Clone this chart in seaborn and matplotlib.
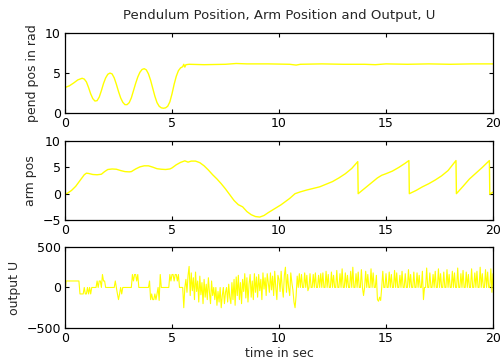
import numpy as np
import pandas as pd
import seaborn as sns
import matplotlib.pyplot as plt

# pendulum position (rad)
pend_t = [0.0, 0.2, 0.4, 0.6, 0.8, 0.9, 1.0, 1.1, 1.2, 1.3, 1.4, 1.5, 1.6, 1.7, 1.8, 1.9,
          2.0, 2.1, 2.2, 2.3, 2.4, 2.5, 2.6, 2.7, 2.8, 2.9, 3.0, 3.1, 3.2, 3.3, 3.4, 3.5,
          3.6, 3.7, 3.8, 3.9, 4.0, 4.1, 4.2, 4.3, 4.4, 4.5, 4.6, 4.7, 4.8, 4.9, 5.0, 5.1,
          5.2, 5.3, 5.4, 5.5, 5.55, 5.6, 5.65, 5.8, 6.5, 7.5, 8.0, 8.5, 9.5, 10.5, 10.8,
          11.0, 12.0, 13.0, 14.0, 14.5, 15.0, 16.0, 17.0, 18.0, 19.0, 20.0]
pend_v = [3.2, 3.4, 3.75, 4.15, 4.35, 4.25, 3.9, 3.2, 2.4, 1.8, 1.5, 1.55, 2.0, 2.8, 3.7, 4.4,
          4.85, 5.0, 4.9, 4.4, 3.6, 2.7, 1.9, 1.35, 1.05, 1.05, 1.3, 1.9, 2.8, 3.7, 4.5, 5.1,
          5.45, 5.55, 5.4, 4.9, 4.1, 3.1, 2.1, 1.3, 0.85, 0.65, 0.6, 0.65, 0.85, 1.4, 2.4, 3.6,
          4.6, 5.3, 5.65, 5.8, 6.1, 5.75, 6.05, 6.1, 6.05, 6.1, 6.2, 6.15, 6.15, 6.1, 6.0,
          6.1, 6.15, 6.1, 6.1, 6.05, 6.15, 6.1, 6.15, 6.1, 6.15, 6.15]

# arm position
arm_t = [0.0, 0.1, 0.3, 0.5, 0.7, 0.9, 1.0, 1.1, 1.3, 1.5, 1.7, 1.85, 2.0, 2.2, 2.4, 2.6,
         2.8, 3.0, 3.1, 3.3, 3.5, 3.7, 3.9, 4.1, 4.3, 4.5, 4.7, 4.9, 5.0, 5.2, 5.4, 5.6,
         5.75, 5.9, 6.1, 6.3, 6.5, 6.7, 6.9, 7.1, 7.3, 7.5, 7.7, 7.9, 8.1, 8.3, 8.5, 8.7,
         8.9, 9.1, 9.3, 9.5, 9.7, 9.9, 10.1, 10.3, 10.5, 10.75, 11.0, 11.3, 11.6, 11.9,
         12.2, 12.5, 12.8, 13.1, 13.4, 13.68, 13.7, 14.0, 14.3, 14.6, 14.8, 15.0, 15.3,
         15.6, 15.9, 16.07, 16.09, 16.4, 16.7, 17.0, 17.3, 17.6, 17.9, 18.27, 18.29, 18.6,
         18.9, 19.2, 19.5, 19.83, 19.85, 20.0]
arm_v = [0.0, 0.05, 0.6, 1.4, 2.5, 3.6, 3.9, 3.85, 3.65, 3.6, 3.7, 4.2, 4.6, 4.7, 4.65, 4.4,
         4.2, 4.15, 4.2, 4.7, 5.1, 5.3, 5.3, 5.05, 4.75, 4.65, 4.6, 4.7, 4.9, 5.5, 5.95, 6.25,
         6.0, 6.2, 6.2, 5.9, 5.3, 4.5, 3.6, 2.8, 1.9, 0.9, -0.2, -1.3, -2.1, -2.5, -3.4, -4.0,
         -4.35, -4.45, -4.15, -3.6, -3.1, -2.6, -2.1, -1.5, -0.9, 0.0, 0.35, 0.7, 1.0, 1.3,
         1.8, 2.3, 3.0, 3.8, 4.8, 6.1, 0.0, 1.0, 2.0, 3.0, 3.5, 3.8, 4.3,
         5.0, 5.8, 6.3, 0.0, 0.6, 1.3, 1.9, 2.6, 3.4, 4.4, 6.3, 0.0, 1.4,
         2.8, 3.9, 5.0, 6.3, -0.1, 0.3]

# output U, one row per second, sampled every 0.05 s
u_rows = [
    [-80, 80, 80, 80, 80, 80, 80, 80, 80, 80, 80, 80, 80, 80, -80, -80, -80, -80, 0, -80],
    [-80, 0, -80, 0, -80, 0, 0, 0, 0, 0, 80, 0, 80, 80, 0, 160, 80, 80, 0, 0],
    [0, 0, 0, 0, 0, 0, 0, 80, 0, -80, -150, -80, 0, -80, 0, 0, 0, 0, 0, 0],
    [0, 0, 0, 160, 80, 160, 160, 80, 160, 0, 0, 0, 0, 0, 0, 0, 0, 0, 0, 80],
    [-150, -80, -150, -150, -80, -150, -80, 0, -160, 160, 0, 0, 0, 0, 0, 0, 0, 0, 160, 80],
    [160, 160, 80, 160, 160, 80, 160, 0, 0, 0, 0, -250, 0, 100, -60, 150, 260, -100, 180, -40],
    [120, -150, 190, -50, 80, -180, 140, -90, 60, -200, 100, -120, 40, -150, 120, -60, -200, 80, -100, 0],
    [-150, 0, -220, -50, -180, 0, -250, -100, 0, -200, -60, 0, -180, 40, -120, -200, 60, -150, 100, -220],
    [130, -100, 150, -150, 60, -200, 100, -50, 170, -130, 120, -180, 40, 160, -120, 80, -150, 170, -60, 130],
    [-120, 160, -40, 100, -150, 180, -20, 120, -100, 170, 60, -60, 180, -30, 140, -100, 200, 0, -150, 150],
    [100, -50, 200, 0, -120, 150, 250, -60, 160, 0, -100, 180, 60, -30, -180, -250, -100, 140, 0, 170],
    [0, 160, 0, 0, 180, 0, 150, -40, 0, 170, 0, 0, 160, 0, 180, 0, 0, 150, 0, 170],
    [0, 180, 0, 0, 200, 0, 160, 0, 0, 190, 0, 150, 0, 0, 210, 0, 0, 170, 0, 230],
    [0, 0, 180, 0, 150, 0, 0, 200, 0, 250, 0, 0, 170, 0, 190, 0, 0, 220, 0, -100],
    [0, 200, 0, 160, 0, 0, 230, 0, 180, 0, 0, 150, -150, -170, -120, -160, 0, 200, 0, 0],
    [170, 0, 0, 190, 0, 160, 0, 0, 210, 0, 180, 0, 0, 150, 0, 200, 0, 0, 170, 0],
    [0, 220, 0, 160, 0, 0, 190, 0, 0, 180, 0, 150, 0, 0, 200, -150, 0, 0, 240, 0],
    [0, 180, 0, 0, 160, 0, 200, 0, 0, 230, 0, 170, 0, 0, 190, 0, 0, 220, 0, 160],
    [0, 0, 200, 0, 180, 0, 0, 240, 0, 0, 170, 0, 210, 0, 0, 190, 0, 160, 0, 0],
    [230, 0, 0, 180, 0, 200, 0, 0, 250, 0, 170, 0, 0, 220, 0, 190, 0, 0, 230, -60],
]
u_last = 170

u_v = [v for row in u_rows for v in row] + [u_last]
u_t = np.arange(len(u_v)) * 0.05

sns.set_style("ticks")
plt.rcParams['font.family'] = ['DejaVu Sans']

fig = plt.figure(figsize=(5, 3.6), dpi=100)
ax1 = fig.add_axes([0.13, 0.686, 0.856, 0.222])
ax2 = fig.add_axes([0.13, 0.389, 0.856, 0.219])
ax3 = fig.add_axes([0.13, 0.089, 0.856, 0.225])

yellow = '#ffff00'
sns.lineplot(x=pend_t, y=pend_v, ax=ax1, color=yellow, lw=1, sort=False, estimator=None)
sns.lineplot(x=arm_t, y=arm_v, ax=ax2, color=yellow, lw=1, sort=False, estimator=None)
sns.lineplot(x=u_t, y=u_v, ax=ax3, color=yellow, lw=0.8, sort=False, estimator=None)

ax1.set_ylim(0, 10)
ax1.set_yticks([0, 5, 10])
ax2.set_ylim(-5, 10)
ax2.set_yticks([-5, 0, 5, 10])
ax3.set_ylim(-500, 500)
ax3.set_yticks([-500, 0, 500])

for ax in (ax1, ax2, ax3):
    ax.set_xlim(0, 20)
    ax.set_xticks([0, 5, 10, 15, 20])
    ax.tick_params(direction='in', top=True, right=True, length=3, labelsize=9,
                   colors='black', pad=3)
    for s in ax.spines.values():
        s.set_color('black')
        s.set_linewidth(0.9)

ax1.set_ylabel('pend pos in rad', fontsize=9)
ax2.set_ylabel('arm pos', fontsize=9)
ax3.set_ylabel('output U', fontsize=9)
ax3.set_xlabel('time in sec', fontsize=9, labelpad=1)
ax1.set_title('Pendulum Position, Arm Position and Output, U', fontsize=9.5, pad=10)

plt.savefig('out.png', dpi=100)
